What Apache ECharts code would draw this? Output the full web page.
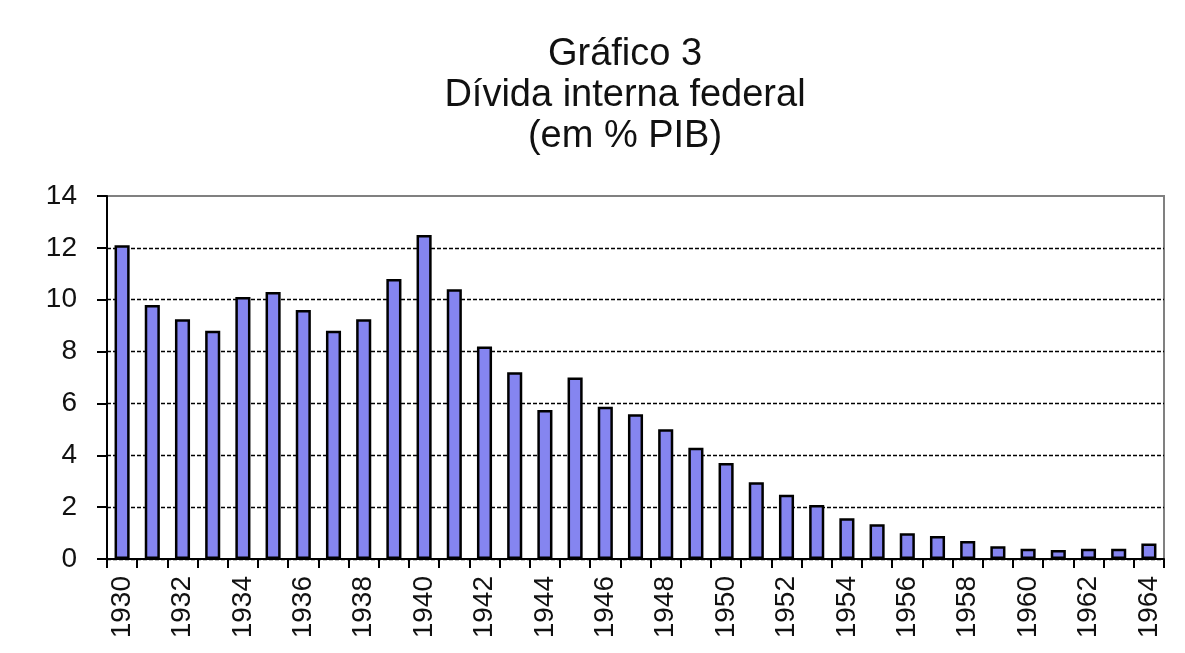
<!DOCTYPE html>
<html>
<head>
<meta charset="utf-8">
<script src="https://cdn.jsdelivr.net/npm/echarts@6/dist/echarts.min.js"></script>
<style>
html,body{margin:0;padding:0;background:#fff;}
#c{width:1185px;height:653px;}
</style>
</head>
<body>
<div id="c"></div>
<script>
const years = ['1930','1931','1932','1933','1934','1935','1936','1937','1938','1939','1940','1941','1942','1943','1944','1945','1946','1947','1948','1949','1950','1951','1952','1953','1954','1955','1956','1957','1958','1959','1960','1961','1962','1963','1964'];
const divida = [12.1,9.8,9.25,8.8,10.1,10.3,9.6,8.8,9.25,10.8,12.5,10.4,8.2,7.2,5.75,7.0,5.87,5.58,5.0,4.29,3.7,2.96,2.48,2.08,1.57,1.34,0.99,0.89,0.69,0.49,0.4,0.35,0.4,0.4,0.6];
const titleLines = ['Gráfico 3','Dívida interna federal','(em % PIB)'];

const chart = echarts.init(document.getElementById('c'), null, {renderer:'canvas'});
chart.setOption({
  backgroundColor:'#ffffff',
  animation:false,
  title:{
    text: titleLines.join('\n'),
    left: 620, top: 29, textAlign:'center',
    textStyle:{fontFamily:'Liberation Sans, Arial, sans-serif', fontSize:38, fontWeight:'normal', color:'#111', lineHeight:41}
  },
  grid:{left:107, right:21, top:196, bottom:94, show:true, borderColor:'#808080', borderWidth:2, backgroundColor:'transparent'},
  xAxis:{
    type:'category', data: years, boundaryGap:true,
    axisLine:{show:true, lineStyle:{color:'#000', width:2}},
    axisTick:{show:true, interval:0, length:9, lineStyle:{color:'#000', width:2}},
    axisLabel:{interval:1, rotate:90, margin:17, fontFamily:'Liberation Sans, Arial, sans-serif', fontSize:28, color:'#111'},
    splitLine:{show:false}
  },
  yAxis:{
    type:'value', min:0, max:14, interval:2,
    axisLine:{show:true, lineStyle:{color:'#000', width:2}},
    axisTick:{show:true, length:10, lineStyle:{color:'#000', width:2}},
    axisLabel:{margin:30, fontFamily:'Liberation Sans, Arial, sans-serif', fontSize:28, color:'#111'},
    splitLine:{show:true, lineStyle:{type:[4,2], width:1.3, color:['#000','#000','#000','#000','#000','#000','#000','rgba(0,0,0,0)']}}
  },
  series:[{
    type:'bar', data: divida, barWidth:'50%',
    itemStyle:{color:'#8585f0', borderColor:'#000', borderWidth:2.5}
  }]
});
</script>
</body>
</html>
